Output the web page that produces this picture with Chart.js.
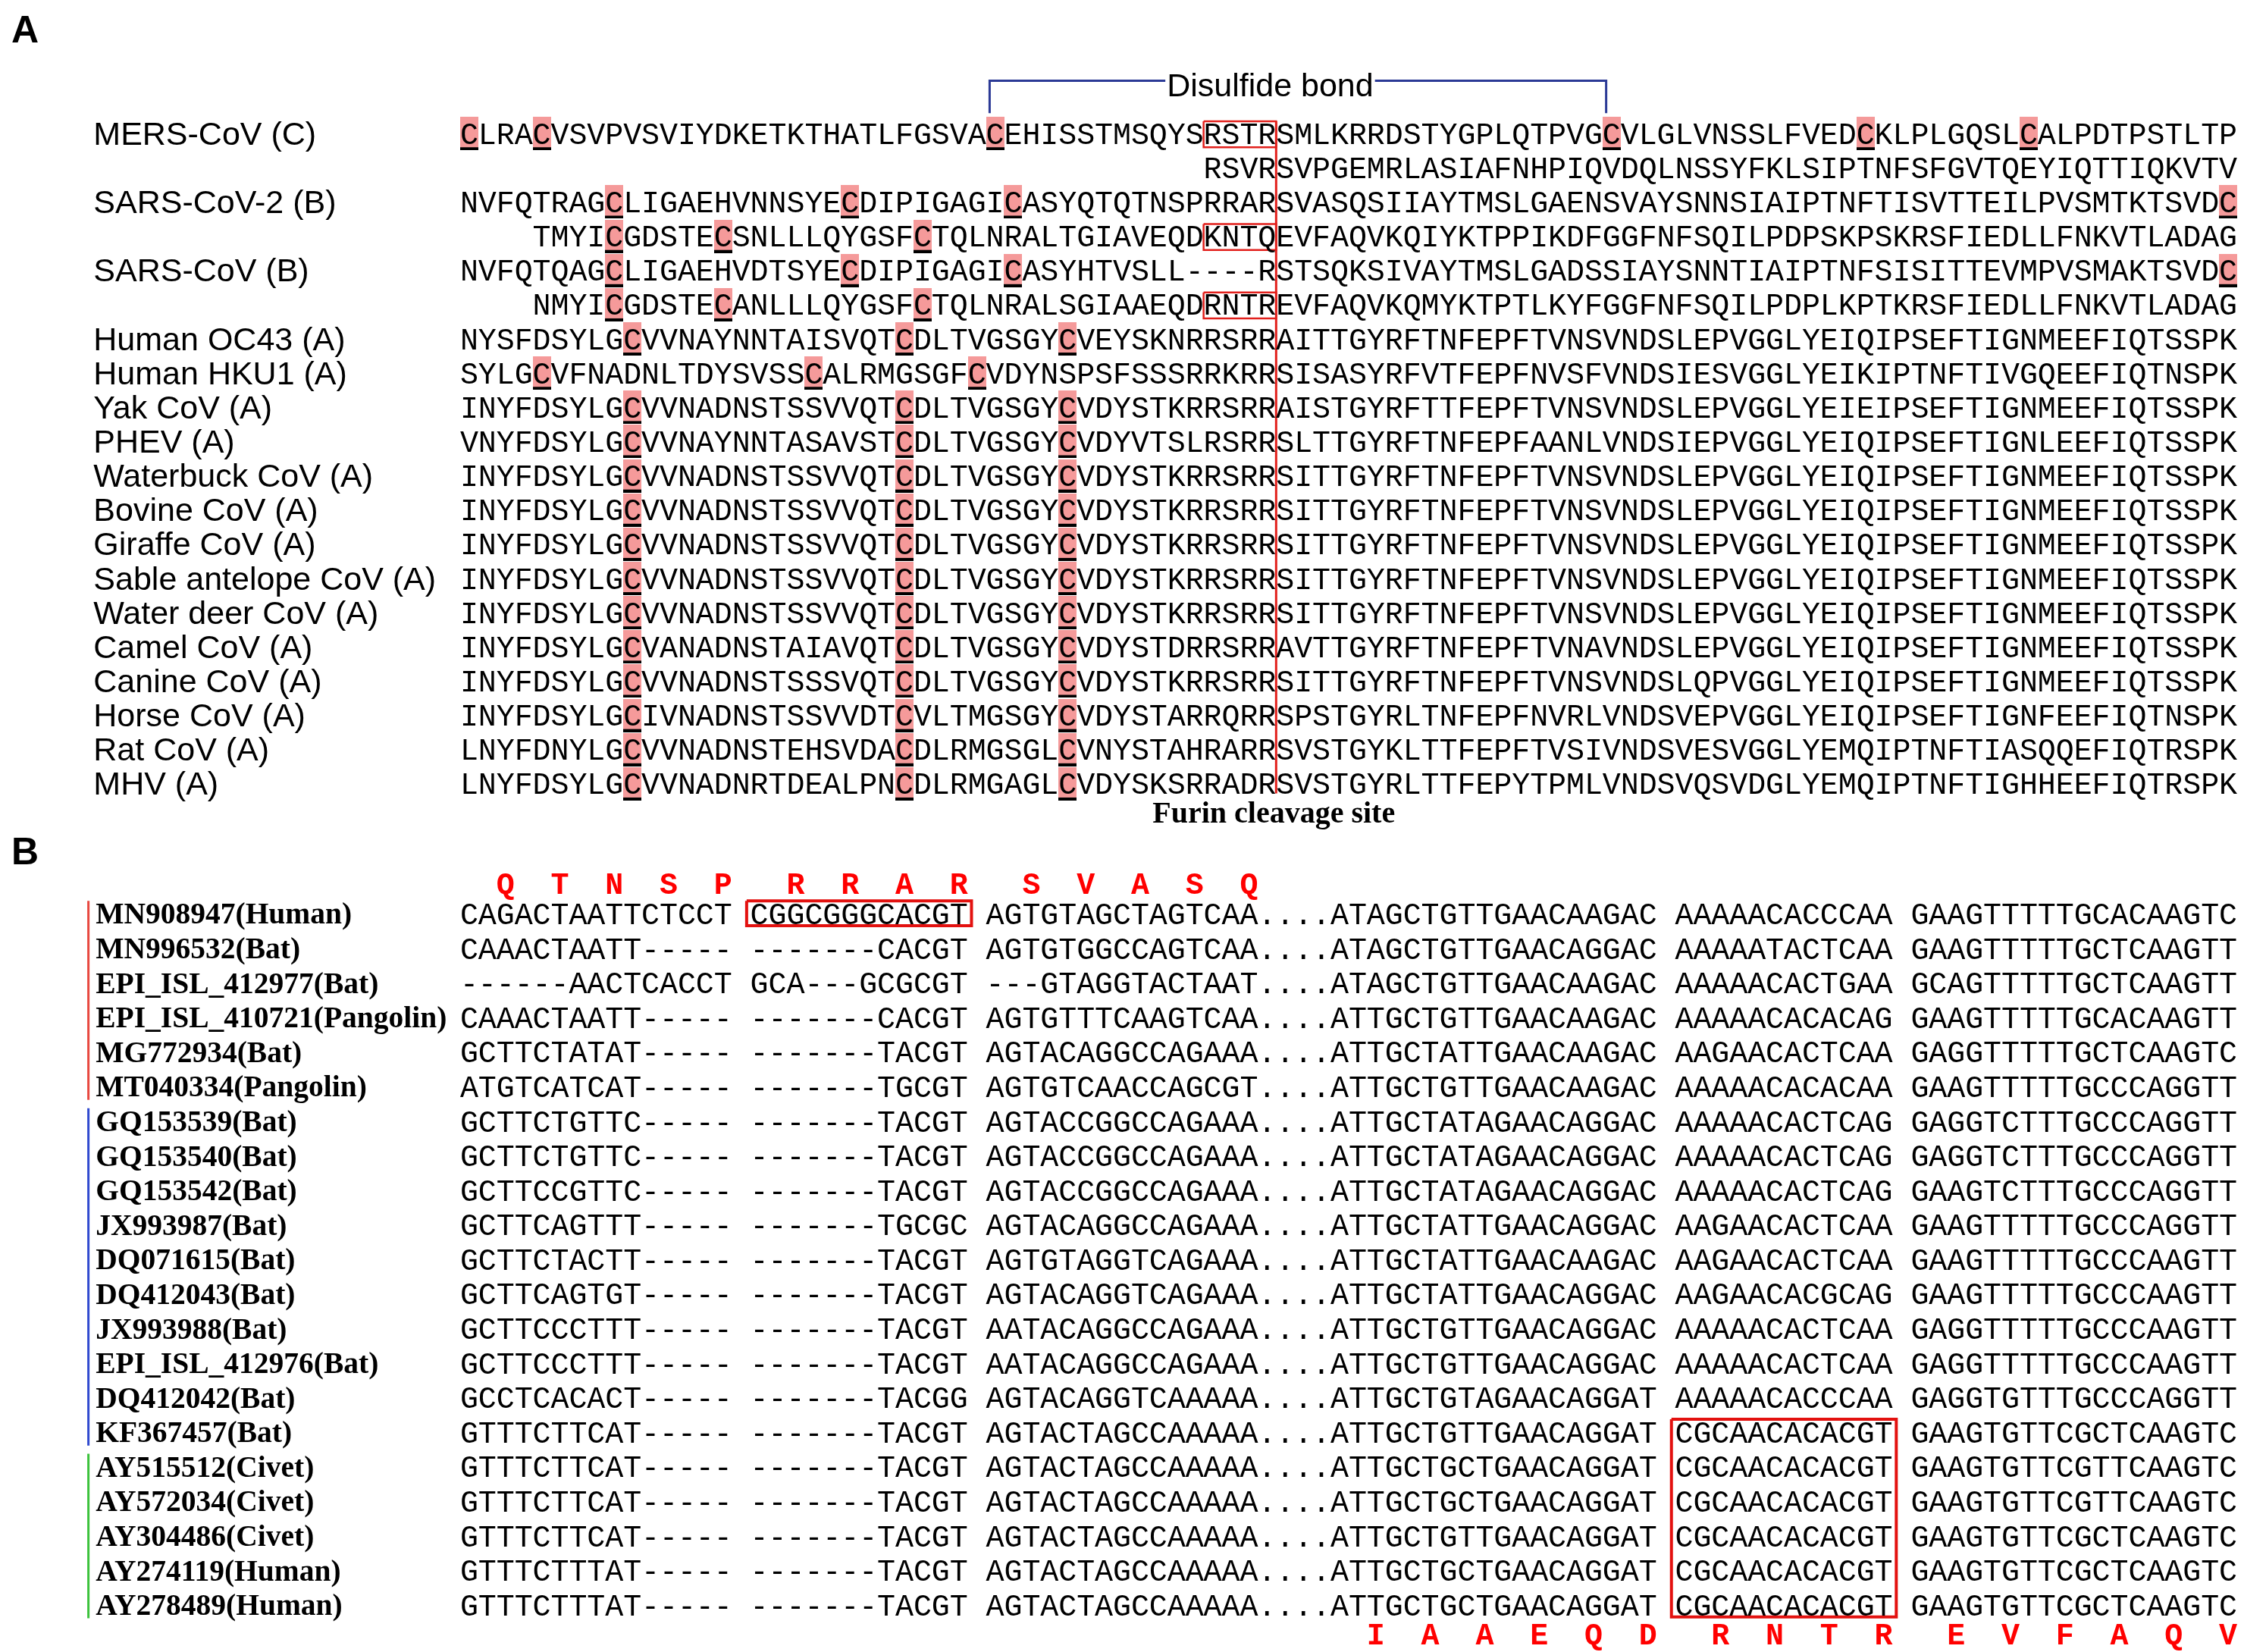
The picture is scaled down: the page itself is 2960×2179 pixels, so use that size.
<!DOCTYPE html>
<html lang="en"><head><meta charset="utf-8"><title>Spike alignment</title>
<script src="https://cdn.jsdelivr.net/npm/chart.js@4.4.1/dist/chart.umd.min.js"></script>
<style>html,body{margin:0;padding:0;background:#fff;overflow:hidden}#wrap{position:relative;width:2960px;height:2179px}canvas{display:block}</style>
</head><body><div id="wrap"><canvas id="chart" width="2960" height="2179"></canvas></div>
<script>
// ================= DATA =================
// Panel A : protein alignment
const namesA = ["MERS-CoV (C)","","SARS-CoV-2 (B)","","SARS-CoV (B)","","Human OC43 (A)","Human HKU1 (A)","Yak CoV (A)","PHEV (A)","Waterbuck CoV (A)","Bovine CoV (A)","Giraffe CoV (A)","Sable antelope CoV (A)","Water deer CoV (A)","Camel CoV (A)","Canine CoV (A)","Horse CoV (A)","Rat CoV (A)","MHV (A)"];
const startColA = [1,42,1,5,1,5,1,1,1,1,1,1,1,1,1,1,1,1,1,1];
const seqsA = [
"CLRACVSVPVSVIYDKETKTHATLFGSVACEHISSTMSQYSRSTRSMLKRRDSTYGPLQTPVGCVLGLVNSSLFVEDCKLPLGQSLCALPDTPSTLTP",
"RSVRSVPGEMRLASIAFNHPIQVDQLNSSYFKLSIPTNFSFGVTQEYIQTTIQKVTV",
"NVFQTRAGCLIGAEHVNNSYECDIPIGAGICASYQTQTNSPRRARSVASQSIIAYTMSLGAENSVAYSNNSIAIPTNFTISVTTEILPVSMTKTSVDC",
"TMYICGDSTECSNLLLQYGSFCTQLNRALTGIAVEQDKNTQEVFAQVKQIYKTPPIKDFGGFNFSQILPDPSKPSKRSFIEDLLFNKVTLADAG",
"NVFQTQAGCLIGAEHVDTSYECDIPIGAGICASYHTVSLL----RSTSQKSIVAYTMSLGADSSIAYSNNTIAIPTNFSISITTEVMPVSMAKTSVDC",
"NMYICGDSTECANLLLQYGSFCTQLNRALSGIAAEQDRNTREVFAQVKQMYKTPTLKYFGGFNFSQILPDPLKPTKRSFIEDLLFNKVTLADAG",
"NYSFDSYLGCVVNAYNNTAISVQTCDLTVGSGYCVEYSKNRRSRRAITTGYRFTNFEPFTVNSVNDSLEPVGGLYEIQIPSEFTIGNMEEFIQTSSPK",
"SYLGCVFNADNLTDYSVSSCALRMGSGFCVDYNSPSFSSSRRKRRSISASYRFVTFEPFNVSFVNDSIESVGGLYEIKIPTNFTIVGQEEFIQTNSPK",
"INYFDSYLGCVVNADNSTSSVVQTCDLTVGSGYCVDYSTKRRSRRAISTGYRFTTFEPFTVNSVNDSLEPVGGLYEIEIPSEFTIGNMEEFIQTSSPK",
"VNYFDSYLGCVVNAYNNTASAVSTCDLTVGSGYCVDYVTSLRSRRSLTTGYRFTNFEPFAANLVNDSIEPVGGLYEIQIPSEFTIGNLEEFIQTSSPK",
"INYFDSYLGCVVNADNSTSSVVQTCDLTVGSGYCVDYSTKRRSRRSITTGYRFTNFEPFTVNSVNDSLEPVGGLYEIQIPSEFTIGNMEEFIQTSSPK",
"INYFDSYLGCVVNADNSTSSVVQTCDLTVGSGYCVDYSTKRRSRRSITTGYRFTNFEPFTVNSVNDSLEPVGGLYEIQIPSEFTIGNMEEFIQTSSPK",
"INYFDSYLGCVVNADNSTSSVVQTCDLTVGSGYCVDYSTKRRSRRSITTGYRFTNFEPFTVNSVNDSLEPVGGLYEIQIPSEFTIGNMEEFIQTSSPK",
"INYFDSYLGCVVNADNSTSSVVQTCDLTVGSGYCVDYSTKRRSRRSITTGYRFTNFEPFTVNSVNDSLEPVGGLYEIQIPSEFTIGNMEEFIQTSSPK",
"INYFDSYLGCVVNADNSTSSVVQTCDLTVGSGYCVDYSTKRRSRRSITTGYRFTNFEPFTVNSVNDSLEPVGGLYEIQIPSEFTIGNMEEFIQTSSPK",
"INYFDSYLGCVANADNSTAIAVQTCDLTVGSGYCVDYSTDRRSRRAVTTGYRFTNFEPFTVNAVNDSLEPVGGLYEIQIPSEFTIGNMEEFIQTSSPK",
"INYFDSYLGCVVNADNSTSSSVQTCDLTVGSGYCVDYSTKRRSRRSITTGYRFTNFEPFTVNSVNDSLQPVGGLYEIQIPSEFTIGNMEEFIQTSSPK",
"INYFDSYLGCIVNADNSTSSVVDTCVLTMGSGYCVDYSTARRQRRSPSTGYRLTNFEPFNVRLVNDSVEPVGGLYEIQIPSEFTIGNFEEFIQTNSPK",
"LNYFDNYLGCVVNADNSTEHSVDACDLRMGSGLCVNYSTAHRARRSVSTGYKLTTFEPFTVSIVNDSVESVGGLYEMQIPTNFTIASQQEFIQTRSPK",
"LNYFDSYLGCVVNADNRTDEALPNCDLRMGAGLCVDYSKSRRADRSVSTGYRLTTFEPYTPMLVNDSVQSVDGLYEMQIPTNFTIGHHEEFIQTRSPK"
];
const highlightResidue = "C";
const furinBoxRowsA = [0,3,5];
const furinBoxColsA = [42,45];
const furinCutAfterCol = 45;
const disulfideCols = [30,64];

// Panel B : nucleotide alignment
const namesB = ["MN908947(Human)","MN996532(Bat)","EPI_ISL_412977(Bat)","EPI_ISL_410721(Pangolin)","MG772934(Bat)","MT040334(Pangolin)","GQ153539(Bat)","GQ153540(Bat)","GQ153542(Bat)","JX993987(Bat)","DQ071615(Bat)","DQ412043(Bat)","JX993988(Bat)","EPI_ISL_412976(Bat)","DQ412042(Bat)","KF367457(Bat)","AY515512(Civet)","AY572034(Civet)","AY304486(Civet)","AY274119(Human)","AY278489(Human)"];
const cladeB = ["r","r","r","r","r","r","b","b","b","b","b","b","b","b","b","b","g","g","g","g","g"];
const seqsB = [
"CAGACTAATTCTCCT CGGCGGGCACGT AGTGTAGCTAGTCAA....ATAGCTGTTGAACAAGAC AAAAACACCCAA GAAGTTTTTGCACAAGTC",
"CAAACTAATT----- -------CACGT AGTGTGGCCAGTCAA....ATAGCTGTTGAACAGGAC AAAAATACTCAA GAAGTTTTTGCTCAAGTT",
"------AACTCACCT GCA---GCGCGT ---GTAGGTACTAAT....ATAGCTGTTGAACAAGAC AAAAACACTGAA GCAGTTTTTGCTCAAGTT",
"CAAACTAATT----- -------CACGT AGTGTTTCAAGTCAA....ATTGCTGTTGAACAAGAC AAAAACACACAG GAAGTTTTTGCACAAGTT",
"GCTTCTATAT----- -------TACGT AGTACAGGCCAGAAA....ATTGCTATTGAACAAGAC AAGAACACTCAA GAGGTTTTTGCTCAAGTC",
"ATGTCATCAT----- -------TGCGT AGTGTCAACCAGCGT....ATTGCTGTTGAACAAGAC AAAAACACACAA GAAGTTTTTGCCCAGGTT",
"GCTTCTGTTC----- -------TACGT AGTACCGGCCAGAAA....ATTGCTATAGAACAGGAC AAAAACACTCAG GAGGTCTTTGCCCAGGTT",
"GCTTCTGTTC----- -------TACGT AGTACCGGCCAGAAA....ATTGCTATAGAACAGGAC AAAAACACTCAG GAGGTCTTTGCCCAGGTT",
"GCTTCCGTTC----- -------TACGT AGTACCGGCCAGAAA....ATTGCTATAGAACAGGAC AAAAACACTCAG GAAGTCTTTGCCCAGGTT",
"GCTTCAGTTT----- -------TGCGC AGTACAGGCCAGAAA....ATTGCTATTGAACAGGAC AAGAACACTCAA GAAGTTTTTGCCCAGGTT",
"GCTTCTACTT----- -------TACGT AGTGTAGGTCAGAAA....ATTGCTATTGAACAAGAC AAGAACACTCAA GAAGTTTTTGCCCAAGTT",
"GCTTCAGTGT----- -------TACGT AGTACAGGTCAGAAA....ATTGCTATTGAACAGGAC AAGAACACGCAG GAAGTTTTTGCCCAAGTT",
"GCTTCCCTTT----- -------TACGT AATACAGGCCAGAAA....ATTGCTGTTGAACAGGAC AAAAACACTCAA GAGGTTTTTGCCCAAGTT",
"GCTTCCCTTT----- -------TACGT AATACAGGCCAGAAA....ATTGCTGTTGAACAGGAC AAAAACACTCAA GAGGTTTTTGCCCAAGTT",
"GCCTCACACT----- -------TACGG AGTACAGGTCAAAAA....ATTGCTGTAGAACAGGAT AAAAACACCCAA GAGGTGTTTGCCCAGGTT",
"GTTTCTTCAT----- -------TACGT AGTACTAGCCAAAAA....ATTGCTGTTGAACAGGAT CGCAACACACGT GAAGTGTTCGCTCAAGTC",
"GTTTCTTCAT----- -------TACGT AGTACTAGCCAAAAA....ATTGCTGCTGAACAGGAT CGCAACACACGT GAAGTGTTCGTTCAAGTC",
"GTTTCTTCAT----- -------TACGT AGTACTAGCCAAAAA....ATTGCTGCTGAACAGGAT CGCAACACACGT GAAGTGTTCGTTCAAGTC",
"GTTTCTTCAT----- -------TACGT AGTACTAGCCAAAAA....ATTGCTGTTGAACAGGAT CGCAACACACGT GAAGTGTTCGCTCAAGTC",
"GTTTCTTTAT----- -------TACGT AGTACTAGCCAAAAA....ATTGCTGCTGAACAGGAT CGCAACACACGT GAAGTGTTCGCTCAAGTC",
"GTTTCTTTAT----- -------TACGT AGTACTAGCCAAAAA....ATTGCTGCTGAACAGGAT CGCAACACACGT GAAGTGTTCGCTCAAGTC"
];
const topAA = ["Q","T","N","S","P","R","R","A","R","S","V","A","S","Q"];
const topAACols = [3,6,9,12,15,19,22,25,28,32,35,38,41,44];
const bottomAA = ["I","A","A","E","Q","D","R","N","T","R","E","V","F","A","Q","V"];
const bottomAACols = [51,54,57,60,63,66,70,73,76,79,83,86,89,92,95,98];
const boxBRows = [[0,0],[15,20]];
const boxBCols = [[17,28],[68,79]];

// ================= LAYOUT / STYLE =================
const W = 2960, H = 2179;
const COL0 = 604, COLW = 24;          // pixel of column boundary 0, width of one column
const ROWA0 = 172, ROWAH = 45.35;     // panel A first row centre, row pitch
const ROWB0 = 1206, ROWBH = 45.8;     // panel B first row centre, row pitch
const F_SEQ = '40px "Liberation Mono"';
const F_AA = 'bold 40px "Liberation Mono"';
const F_LAB_A = '43px "Liberation Sans"';
const F_LAB_B = 'bold 39.5px "Liberation Serif"';
const F_PANEL = 'bold 50px "Liberation Sans"';
const F_DIS = '43px "Liberation Sans"';
const F_FURIN = 'bold 40px "Liberation Serif"';
const PINK = '#f59a9a', RED = '#e2201c', BLUE = '#2b3a96';
const CLADE_COL = {r:'#e8473f', b:'#3049cf', g:'#3cc23c'};

// highlight marker (pink cell with black underline)
const hl = document.createElement('canvas');
hl.width = COLW; hl.height = 44;
{ const h = hl.getContext('2d'); h.fillStyle = PINK; h.fillRect(0,0,COLW,41); h.fillStyle = '#000'; h.fillRect(0,40,COLW,4); }

// ---- datasets built from the data arrays ----
const hlPoints = [];
seqsA.forEach((s, r) => {
  for (let k = 0; k < s.length; k++) if (s[k] === highlightResidue) hlPoints.push({x: startColA[r] + k - 0.5, y: r});
});
function rect(c1, c2, r1, r2, padX, top, bot) {
  const x0 = c1 - 1 - padX, x1 = c2 + padX, y0 = r1 - top, y1 = r2 + bot;
  return [{x:x0,y:y0},{x:x1,y:y0},{x:x1,y:y1},{x:x0,y:y1},{x:x0,y:y0}];
}
const lineDS = (data, color, width, yAxisID) => ({type:'scatter', data, showLine:true, borderColor:color, borderWidth:width, pointRadius:0, pointHoverRadius:0, fill:false, tension:0, borderJoinStyle:'miter', borderCapStyle:'butt', yAxisID});
const datasets = [];
datasets.push({type:'scatter', data: hlPoints, pointStyle: hl, pointRadius: 3, yAxisID:'yA', order: 10});
furinBoxRowsA.forEach(r => datasets.push(lineDS(rect(furinBoxColsA[0], furinBoxColsA[1], r, r, 0, 0.36, 0.40), RED, 2.5, 'yA')));
datasets.push(lineDS([{x:furinCutAfterCol, y:-0.36},{x:furinCutAfterCol, y:seqsA.length - 1 + 0.28}], RED, 3, 'yA'));
datasets.push(lineDS([{x:disulfideCols[0]-0.8, y:-0.6},{x:disulfideCols[0]-0.8, y:-1.545},{x:disulfideCols[1]-0.8, y:-1.545},{x:disulfideCols[1]-0.8, y:-0.6}], BLUE, 3, 'yA'));
boxBRows.forEach((rr, i) => datasets.push(lineDS(rect(boxBCols[i][0], boxBCols[i][1], rr[0], rr[1], 0.2, 0.38, 0.34), '#e3110f', 4, 'yB')));
// clade bars
let runStart = 0;
for (let i = 1; i <= cladeB.length; i++) {
  if (i === cladeB.length || cladeB[i] !== cladeB[runStart]) {
    datasets.push(lineDS([{x:-20.5, y:runStart - 0.38},{x:-20.5, y:i - 1 + 0.38}], CLADE_COL[cladeB[runStart]], 3, 'yB'));
    runStart = i;
  }
}

// ---- text plugin (draws through the scales) ----
const ascCache = {};
function asc(ctx, font) {
  if (!(font in ascCache)) { ctx.font = font; ascCache[font] = ctx.measureText('H').actualBoundingBoxAscent; }
  return ascCache[font];
}
const textPlugin = {
  id: 'alignText',
  afterDatasetsDraw(chart) {
    const ctx = chart.ctx, sx = chart.scales.x, yA = chart.scales.yA, yB = chart.scales.yB;
    const put = (t, px, cy, font, color, align) => {
      const a = asc(ctx, font);
      ctx.font = font; ctx.fillStyle = color; ctx.textAlign = align || 'left'; ctx.textBaseline = 'alphabetic';
      ctx.fillText(t, px, cy + a / 2);
    };
    ctx.save();
    // panel letters
    put('A', sx.getPixelForValue(-24.75), yA.getPixelForValue(-3.05), F_PANEL, '#000');
    put('B', sx.getPixelForValue(-24.75), yB.getPixelForValue(-1.83), F_PANEL, '#000');
    // panel A
    seqsA.forEach((s, r) => {
      const cy = yA.getPixelForValue(r);
      if (namesA[r]) put(namesA[r], sx.getPixelForValue(-20.22), cy, F_LAB_A, '#000');
      for (let k = 0; k < s.length; k++) {
        if (s[k] === ' ') continue;
        put(s[k], sx.getPixelForValue(startColA[r] + k - 0.5), cy, F_SEQ, '#000', 'center');
      }
    });
    // disulfide label with white backing
    {
      const t = 'Disulfide bond', cx = sx.getPixelForValue(44.67), cy = yA.getPixelForValue(-1.42);
      ctx.font = F_DIS; const w = ctx.measureText(t).width, a = asc(ctx, F_DIS);
      ctx.fillStyle = '#fff'; ctx.fillRect(cx - w / 2 - 2, cy - a / 2 - 6, w + 4, a + 12);
      put(t, cx, cy, F_DIS, '#000', 'center');
    }
    put('Furin cleavage site', sx.getPixelForValue(44.87), yA.getPixelForValue(19.84), F_FURIN, '#000', 'center');
    // panel B
    seqsB.forEach((s, r) => {
      const cy = yB.getPixelForValue(r);
      put(namesB[r], sx.getPixelForValue(-20.1), cy, F_LAB_B, '#000');
      for (let k = 0; k < s.length; k++) {
        if (s[k] === ' ') continue;
        put(s[k], sx.getPixelForValue(k + 0.5), cy, F_SEQ, '#000', 'center');
      }
    });
    topAA.forEach((aa, i) => put(aa, sx.getPixelForValue(topAACols[i] - 0.5), yB.getPixelForValue(-0.88), F_AA, '#ff0000', 'center'));
    bottomAA.forEach((aa, i) => put(aa, sx.getPixelForValue(bottomAACols[i] - 0.5), yB.getPixelForValue(seqsB.length - 1 + 0.84), F_AA, '#ff0000', 'center'));
    ctx.restore();
  }
};

function build() {
  new Chart(document.getElementById('chart'), {
    type: 'scatter',
    data: { datasets },
    options: {
      responsive: false, devicePixelRatio: 1, animation: false, events: [],
      layout: { padding: 0 },
      plugins: { legend: { display: false }, tooltip: { enabled: false }, title: { display: false } },
      scales: {
        x: { type: 'linear', display: false, min: -COL0 / COLW, max: (W - COL0) / COLW },
        y: { type: 'linear', display: false, min: 0, max: 1 },
        yA: { type: 'linear', axis: 'y', display: false, reverse: true, min: -ROWA0 / ROWAH, max: (H - ROWA0) / ROWAH },
        yB: { type: 'linear', axis: 'y', display: false, reverse: true, min: -ROWB0 / ROWBH, max: (H - ROWB0) / ROWBH }
      }
    },
    plugins: [textPlugin]
  });
}
const fl = [F_SEQ, F_AA, F_LAB_A, F_LAB_B, F_PANEL, F_FURIN].map(f => document.fonts ? document.fonts.load(f) : Promise.resolve());
Promise.all(fl).then(build, build);
</script></body></html>
